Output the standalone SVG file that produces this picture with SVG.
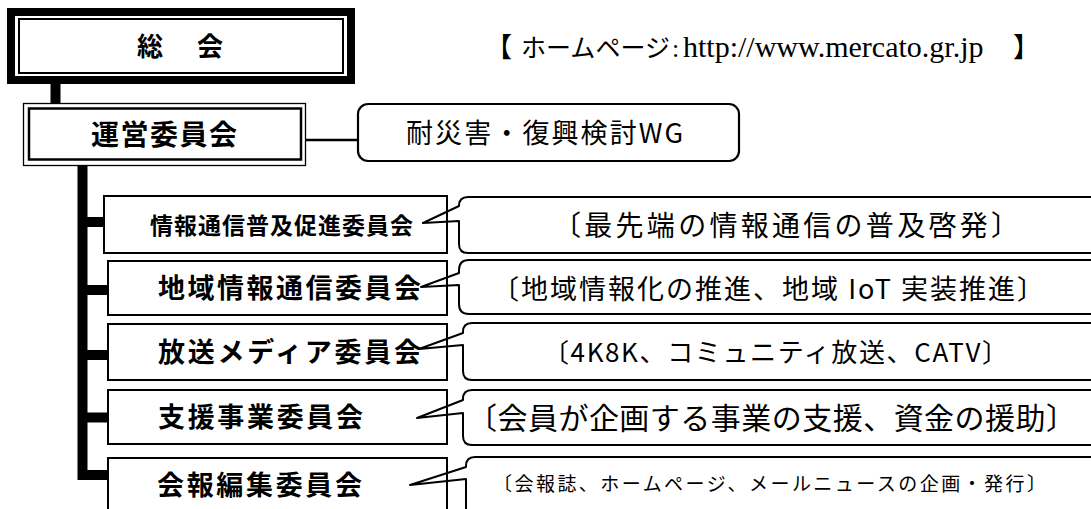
<svg xmlns="http://www.w3.org/2000/svg" width="1091" height="509" viewBox="0 0 1091 509">
<style>
.bal{fill:#fff;stroke:#000;stroke-width:2;stroke-linejoin:round}
.b{font-family:"Noto Sans CJK JP","Noto Sans",sans-serif;font-weight:700;fill:#000}
.r{font-family:"Noto Sans CJK JP","Noto Sans",sans-serif;font-weight:400;fill:#000}
.s{font-family:"Liberation Serif","Noto Sans CJK JP",serif;font-weight:400;fill:#000}
.bar{fill:none;stroke:#000;stroke-width:10;stroke-linecap:butt;stroke-linejoin:miter}
.cb{fill:none;stroke:#000;stroke-width:2}
</style>
<rect width="1091" height="509" fill="#fff"/>

<g id="connectors">
  <line class="bar" x1="55.5" y1="84" x2="55.5" y2="104"/>
  <path class="bar" d="M82.5 165 V475 H109"/>
  <line class="bar" x1="82" y1="222" x2="105" y2="222"/>
  <line class="bar" x1="82" y1="290" x2="109" y2="290"/>
  <line class="bar" x1="82" y1="355" x2="109" y2="355"/>
  <line class="bar" x1="82" y1="417.5" x2="109" y2="417.5"/>
  <line x1="306" y1="140" x2="358" y2="140" stroke="#000" stroke-width="2.5"/>
</g>

<g id="sokai">
  <rect x="11" y="12" width="340" height="68" fill="#fff" stroke="#000" stroke-width="8"/>
  <rect x="19" y="19" width="324" height="54" fill="none" stroke="#000" stroke-width="2"/>
  <text class="b" x="137" y="56" font-size="26" letter-spacing="4">総　会</text>
</g>

<g id="unei">
  <rect x="23.5" y="103.5" width="282" height="62" fill="#fff" stroke="#000" stroke-width="1.3"/>
  <rect x="29" y="108.5" width="272" height="51" fill="none" stroke="#000" stroke-width="2.5"/>
  <text class="b" x="91" y="145" font-size="28" textLength="146" lengthAdjust="spacing">運営委員会</text>
</g>

<g id="wg">
  <rect x="358" y="104" width="381" height="57" rx="10" ry="10" fill="#fff" stroke="#000" stroke-width="2.2"/>
  <text class="r" x="406" y="143" font-size="27" textLength="277" lengthAdjust="spacing">耐災害・復興検討WG</text>
</g>

<g id="homepage">
  <text class="r" x="485" y="57" font-size="27">【<tspan x="521" font-size="25" textLength="149" lengthAdjust="spacing">ホームページ</tspan><tspan class="s" x="672" font-size="26">:</tspan><tspan class="s" x="683" font-size="30">http://www.mercato.gr.jp</tspan><tspan x="1013">】</tspan></text>
</g>

<g id="balloon1">
  <path class="bal" d="M1100 197 H468 Q459 197 459 206 L423 223 L459 221 V244 Q459 253 468 253 H1100"/>
  <text class="r" x="553" y="236" font-size="28" textLength="466" lengthAdjust="spacing">〔最先端の情報通信の普及啓発〕</text>
</g>
<g id="balloon2">
  <path class="bal" d="M1100 260 H469 Q459 260 459 270 V273 L421 287 L459 285 V304 Q459 314 469 314 H1100"/>
  <text class="r" x="492" y="299" font-size="27" textLength="552" lengthAdjust="spacing">〔地域情報化の推進、地域 IoT 実装推進〕</text>
</g>
<g id="balloon3">
  <path class="bal" d="M1100 323 H472 Q463 323 463 332 V333 L419 349 L463 345 V371 Q463 380 472 380 H1100"/>
  <text class="r" x="543" y="362" font-size="26" textLength="465" lengthAdjust="spacing">〔4K8K、コミュニティ放送、CATV〕</text>
</g>
<g id="balloon4">
  <path class="bal" d="M1100 390 H472 Q463 390 463 399 V400 L417 418 L463 413 V436 Q463 445 472 445 H1100"/>
  <text class="r" x="467" y="429" font-size="30" textLength="609" lengthAdjust="spacing">〔会員が企画する事業の支援、資金の援助〕</text>
</g>
<g id="balloon5">
  <path class="bal" d="M1100 457 H475 Q466 457 466 466 V467 L410 485 L466 479 V520"/>
  <text class="r" x="493" y="491" font-size="19" textLength="553" lengthAdjust="spacing">〔会報誌、ホームページ、メールニュースの企画・発行〕</text>
</g>

<g id="c1">
  <rect class="cb" x="104" y="196" width="343" height="57"/>
  <text class="b" x="150" y="234" font-size="23" textLength="263" lengthAdjust="spacing">情報通信普及促進委員会</text>
</g>
<g id="c2">
  <rect class="cb" x="108" y="261" width="339" height="54"/>
  <text class="b" x="158" y="298" font-size="27" textLength="263" lengthAdjust="spacing">地域情報通信委員会</text>
</g>
<g id="c3">
  <rect class="cb" x="108" y="324" width="339" height="56"/>
  <text class="b" x="158" y="362" font-size="27" textLength="263" lengthAdjust="spacing">放送メディア委員会</text>
</g>
<g id="c4">
  <rect class="cb" x="108" y="390" width="339" height="54"/>
  <text class="b" x="158" y="427" font-size="27" textLength="205" lengthAdjust="spacing">支援事業委員会</text>
</g>
<g id="c5">
  <rect class="cb" x="108" y="458" width="339" height="70"/>
  <text class="b" x="157" y="495" font-size="27" textLength="205" lengthAdjust="spacing">会報編集委員会</text>
</g>
</svg>
